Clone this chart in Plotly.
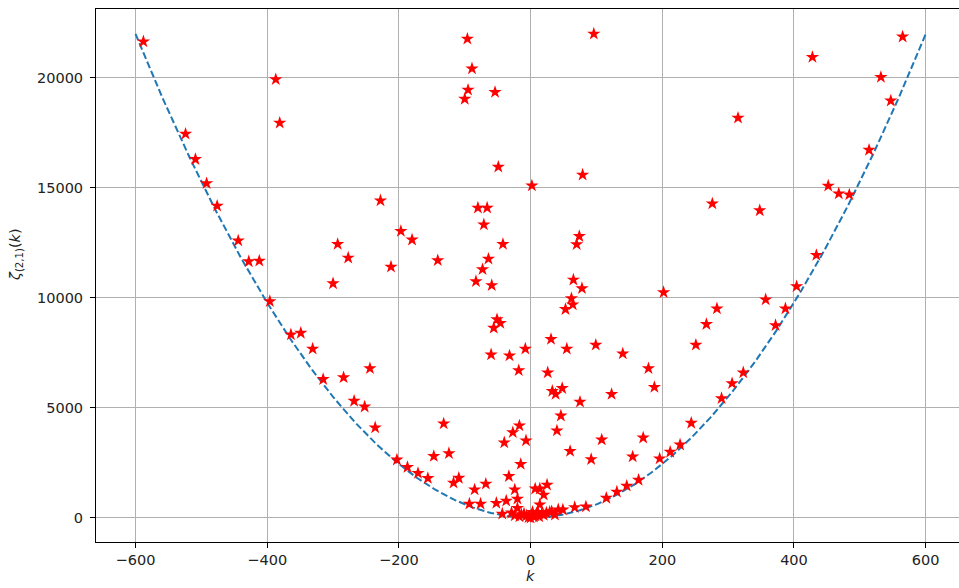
import plotly.graph_objects as go
import numpy as np

# Scatter data: k values and zeta_(2,1)(k) values
k_vals = [
    -588, -524, -509, -492, -476, -444, -428, -412, -396, -387, -381, -364, -349, -331,
    -315, -300, -293, -284, -277, -268, -252, -244, -236, -228, -212, -203, -197, -187,
    -180, -171, -156, -147, -141, -132, -124, -117, -109, -100, -96, -95, -93, -89, -85,
    -83, -80, -76, -73, -71, -68, -66, -64, -60, -59, -56, -54, -52, -51, -49, -46, -43,
    -42, -40, -37, -33, -32, -29, -27, -24, -20, -20, -18, -17, -15, -8, -7, 2,
    96, 428, 565, 532, 547, 315, 514, 79, 452, 468, 484, 276, 348, 74, 70, 434, 65, 78,
    202, 404, 62, 357, 64, 53, 387, 283, 267, 372, 251, 31, 55, 99, 140, 26, 179, 188,
    323, 306, 290, 33, 38, 48, 123, 75, 46, 40, 244, 108, 171, 60, 92, 155, 196, 212,
    227, 7, 14, 25, 20, 14, 115, 131, 146, 164, 67, 84, 42, 49, 29, 37,
    -14, -10, -6, -3, 0, 1, 3, 5, 7, 9, 11, 13, 17, 20, 24, 32, -24, -17,
]
zeta_vals = [
    21650, 17450, 16300, 15200, 14180, 12600, 11650, 11680, 9840, 19930, 17950, 8330, 8400, 7680,
    6300, 10650, 12440, 6380, 11820, 5310, 5050, 6790, 4100, 14420, 11410, 2640, 13030, 2300,
    12640, 2030, 1800, 2800, 11700, 4280, 2930, 1590, 1810, 19040, 21770, 19450, 635, 20420, 1280,
    10750, 14090, 635, 11290, 13330, 1540, 14090, 11770, 7420, 10570, 8630, 19350, 670, 9020, 15950, 8850, 180,
    12440, 3420, 770, 1890, 7370, 230, 3880, 1280, 860, 440, 6700, 4190, 2440, 7680, 3510, 15100,
    22000, 20940, 21870, 20030, 18960, 18180, 16720, 15590, 15090, 14740, 14690, 14280, 13970, 12800, 12430, 11940, 10820, 10430,
    10250, 10520, 9970, 9920, 9690, 9480, 9510, 9510, 8800, 8750, 7860, 8120, 7680, 7860, 7460, 6600, 6790, 5940,
    6600, 6110, 5430, 5760, 5620, 5890, 5620, 5270, 4640, 3960, 4310, 3550, 3640, 3030, 2660, 2780, 2690, 2990,
    3320, 1320, 1320, 1500, 1040, 600, 900, 1180, 1450, 1720, 475, 505, 375, 365, 260, 140,
    150, 180, 100, 20, 0, 130, 260, 40, 100, 200, 260, 60, 180, 120, 230, 290, 100, 60,
]

# Fitted parabola zeta ~ c * k^2 over k in [-600, 600]
curve_coef = 0.0611
curve_k = np.linspace(-600, 600, 401)
curve_zeta = curve_coef * curve_k ** 2

x_ticks = [-600, -400, -200, 0, 200, 400, 600]
x_tick_text = ["\u2212600", "\u2212400", "\u2212200", "0", "200", "400", "600"]
y_ticks = [0, 5000, 10000, 15000, 20000]
y_tick_text = ["0", "5000", "10000", "15000", "20000"]

W, H = 959, 588
ML, MR, MT, MB = 96, 0, 9, 46
FONT = "DejaVu Sans"

fig = go.Figure()
fig.add_trace(go.Scatter(
    x=curve_k, y=curve_zeta, mode="lines",
    line=dict(color="#1f77b4", width=2, dash="7px,3px"),
    hoverinfo="skip", showlegend=False,
))
fig.add_trace(go.Scatter(
    x=k_vals, y=zeta_vals, mode="markers",
    marker=dict(symbol="star", size=10, color="red", line=dict(width=0)),
    showlegend=False,
))

axis_common = dict(
    showgrid=True, gridcolor="#b0b0b0", gridwidth=1,
    zeroline=False, showline=True, linecolor="black", linewidth=1,
    ticks="outside", ticklen=5, tickwidth=1, tickcolor="black",
    tickfont=dict(family=FONT, size=14.5, color="#222222"),
)

fig.update_layout(
    width=W, height=H,
    margin=dict(l=ML, r=MR, t=MT, b=MB, pad=0),
    paper_bgcolor="white", plot_bgcolor="white",
    xaxis=dict(range=[-660, 650.6], tickvals=x_ticks, ticktext=x_tick_text,
               mirror=True, **axis_common),
    yaxis=dict(range=[-1100, 23130], tickvals=y_ticks, ticktext=y_tick_text,
               mirror=False, ticklabelstandoff=4, **axis_common),
    font=dict(family=FONT, color="#222222"),
    annotations=[
        dict(text="<i>k</i>", xref="paper", yref="paper",
             x=(530.7 - ML) / (W - ML - MR), y=-(576 - (H - MB)) / (H - MT - MB),
             xanchor="center", yanchor="middle", showarrow=False,
             font=dict(family=FONT, size=14.5, color="#222222")),
        dict(text="<i>ζ</i><sub>(2,1)</sub>(<i>k</i>)", xref="paper", yref="paper",
             x=-(ML - 16) / (W - ML - MR), y=(H - MB - 255) / (H - MT - MB),
             xanchor="center", yanchor="middle", textangle=-90, showarrow=False,
             font=dict(family=FONT, size=14.5, color="#222222")),
    ],
)

fig.write_html("out.html")
